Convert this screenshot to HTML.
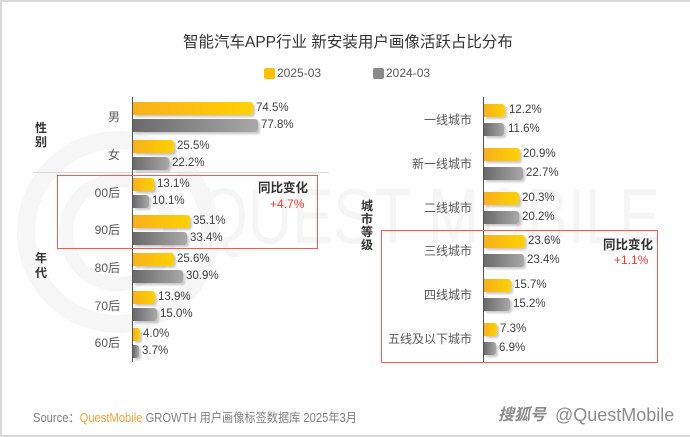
<!DOCTYPE html>
<html><head><meta charset="utf-8"><style>
*{margin:0;padding:0;box-sizing:border-box}
body{width:690px;height:437px;background:#fff;position:relative;overflow:hidden;font-family:"Liberation Sans","Noto Sans CJK SC",sans-serif;}
.frame{position:absolute;left:0;top:0;width:690px;height:437px;border:2px solid #d9d9d9;border-right:none;}
.t{position:absolute;white-space:nowrap;line-height:1;}
.y,.g{position:absolute;height:13px;border-radius:0 3px 3px 0;box-shadow:2px 2px 2px rgba(0,0,0,0.22);}
.y{background:linear-gradient(to right,#f8b01c,#ffd200);}
.g{background:linear-gradient(to right,#6a6a6a,#a8a8a8);}
.v{position:absolute;font-size:11.5px;color:#404040;line-height:13px;white-space:nowrap;}
.lab{position:absolute;font-size:12px;color:#595959;line-height:14px;text-align:right;white-space:nowrap;}
.vert{position:absolute;font-size:12px;font-weight:bold;color:#333;width:14px;text-align:center;}
.box{position:absolute;border:1px solid #ff5555;}
</style></head><body>
<div class="frame"></div>
<!-- watermark -->
<svg style="position:absolute;left:0;top:0" width="690" height="437">
<circle cx="118" cy="232" r="92" fill="none" stroke="#f6f6f6" stroke-width="18"/>
<circle cx="118" cy="232" r="52" fill="none" stroke="#f6f6f6" stroke-width="14"/>
<text x="200" y="243" font-family="Liberation Sans, sans-serif" font-size="78" fill="#f5f5f5" textLength="460" lengthAdjust="spacingAndGlyphs">QUEST MOBILE</text>
</svg>

<div class="t" style="left:183px;top:35px;font-size:15.5px;color:#333;width:326px;text-align:center;">智能汽车APP行业 新安装用户画像活跃占比分布</div>

<div style="position:absolute;left:264px;top:68px;width:11px;height:11px;background:#ffc000;border-radius:2px"></div>
<div class="t" style="left:277px;top:67px;font-size:12px;color:#595959">2025-03</div>
<div style="position:absolute;left:373px;top:68px;width:11px;height:11px;background:#8a8a8a;border-radius:2px"></div>
<div class="t" style="left:386px;top:67px;font-size:12px;color:#595959">2024-03</div>

<!-- left chart -->
<div style="position:absolute;left:33px;top:172px;width:296px;height:1px;background:#d9d9d9"></div>
<div style="position:absolute;left:132px;top:97px;width:1px;height:265px;background:#555"></div>

<div class="vert" style="left:34px;top:121px;line-height:14px">性<br>别</div>
<div class="vert" style="left:34px;top:251px;line-height:15px">年<br>代</div>

<div class="lab" style="left:60px;width:60px;top:110px">男</div>
<div class="lab" style="left:60px;width:60px;top:148px">女</div>
<div class="lab" style="left:60px;width:60px;top:186px">00后</div>
<div class="lab" style="left:60px;width:60px;top:223px">90后</div>
<div class="lab" style="left:60px;width:60px;top:261px">80后</div>
<div class="lab" style="left:60px;width:60px;top:299px">70后</div>
<div class="lab" style="left:60px;width:60px;top:336px">60后</div>

<div class="y" style="left:133px;top:102px;width:120px"></div><div class="v" style="left:256px;top:102px">74.5%</div>
<div class="g" style="left:133px;top:119px;width:125px"></div><div class="v" style="left:261px;top:119px">77.8%</div>
<div class="y" style="left:133px;top:140px;width:41px"></div><div class="v" style="left:177px;top:140px">25.5%</div>
<div class="g" style="left:133px;top:157px;width:36px"></div><div class="v" style="left:172px;top:157px">22.2%</div>
<div class="y" style="left:133px;top:178px;width:21px"></div><div class="v" style="left:157px;top:178px">13.1%</div>
<div class="g" style="left:133px;top:195px;width:16px"></div><div class="v" style="left:152px;top:195px">10.1%</div>
<div class="y" style="left:133px;top:215px;width:57px"></div><div class="v" style="left:193px;top:215px">35.1%</div>
<div class="g" style="left:133px;top:232px;width:54px"></div><div class="v" style="left:190px;top:232px">33.4%</div>
<div class="y" style="left:133px;top:253px;width:41px"></div><div class="v" style="left:177px;top:253px">25.6%</div>
<div class="g" style="left:133px;top:270px;width:50px"></div><div class="v" style="left:186px;top:270px">30.9%</div>
<div class="y" style="left:133px;top:291px;width:22px"></div><div class="v" style="left:158px;top:291px">13.9%</div>
<div class="g" style="left:133px;top:308px;width:24px"></div><div class="v" style="left:160px;top:308px">15.0%</div>
<div class="y" style="left:133px;top:328px;width:7px"></div><div class="v" style="left:143px;top:328px">4.0%</div>
<div class="g" style="left:133px;top:345px;width:6px"></div><div class="v" style="left:142px;top:345px">3.7%</div>

<div class="box" style="left:57px;top:175px;width:261px;height:74px"></div>
<div class="t" style="left:258px;top:182px;font-size:12.5px;font-weight:bold;color:#333">同比变化</div>
<div class="t" style="left:270px;top:198px;font-size:12px;color:#ff3333">+4.7%</div>

<!-- right chart -->
<div style="position:absolute;left:483px;top:97px;width:1px;height:265px;background:#555"></div>
<div class="vert" style="left:360px;top:200px;line-height:13px">城<br>市<br>等<br>级</div>

<div class="lab" style="left:372px;width:100px;top:113px">一线城市</div>
<div class="lab" style="left:372px;width:100px;top:157px">新一线城市</div>
<div class="lab" style="left:372px;width:100px;top:201px">二线城市</div>
<div class="lab" style="left:372px;width:100px;top:244px">三线城市</div>
<div class="lab" style="left:372px;width:100px;top:288px">四线城市</div>
<div class="lab" style="left:372px;width:100px;top:332px">五线及以下城市</div>

<div class="y" style="left:484px;top:104px;width:21px"></div><div class="v" style="left:509px;top:104px">12.2%</div>
<div class="g" style="left:484px;top:123px;width:20px"></div><div class="v" style="left:508px;top:123px">11.6%</div>
<div class="y" style="left:484px;top:148px;width:36px"></div><div class="v" style="left:523px;top:148px">20.9%</div>
<div class="g" style="left:484px;top:167px;width:39px"></div><div class="v" style="left:526px;top:167px">22.7%</div>
<div class="y" style="left:484px;top:192px;width:35px"></div><div class="v" style="left:522px;top:192px">20.3%</div>
<div class="g" style="left:484px;top:211px;width:35px"></div><div class="v" style="left:522px;top:211px">20.2%</div>
<div class="y" style="left:484px;top:235px;width:41px"></div><div class="v" style="left:528px;top:235px">23.6%</div>
<div class="g" style="left:484px;top:254px;width:40px"></div><div class="v" style="left:527px;top:254px">23.4%</div>
<div class="y" style="left:484px;top:279px;width:27px"></div><div class="v" style="left:514px;top:279px">15.7%</div>
<div class="g" style="left:484px;top:298px;width:26px"></div><div class="v" style="left:513px;top:298px">15.2%</div>
<div class="y" style="left:484px;top:323px;width:13px"></div><div class="v" style="left:500px;top:323px">7.3%</div>
<div class="g" style="left:484px;top:342px;width:12px"></div><div class="v" style="left:499px;top:342px">6.9%</div>

<div class="box" style="left:381px;top:230px;width:277px;height:133px"></div>
<div class="t" style="left:603px;top:239px;font-size:12.5px;font-weight:bold;color:#333">同比变化</div>
<div class="t" style="left:614px;top:254px;font-size:12px;color:#ff3333">+1.1%</div>

<!-- source -->
<div class="t" style="left:33px;top:412px;font-size:12.5px;color:#7f7f7f;transform:scaleX(0.895);transform-origin:0 0;">Source：<span style="color:#f7a23a">QuestMobile</span> GROWTH 用户画像标签数据库 2025年3月</div>
<div class="t" style="left:498px;top:408px;font-size:16px;color:#8c8c8c;font-style:italic;font-weight:bold;">搜狐号</div>
<div class="t" style="left:555px;top:406px;font-size:18px;color:#8c8c8c;">@QuestMobile</div>
</body></html>
